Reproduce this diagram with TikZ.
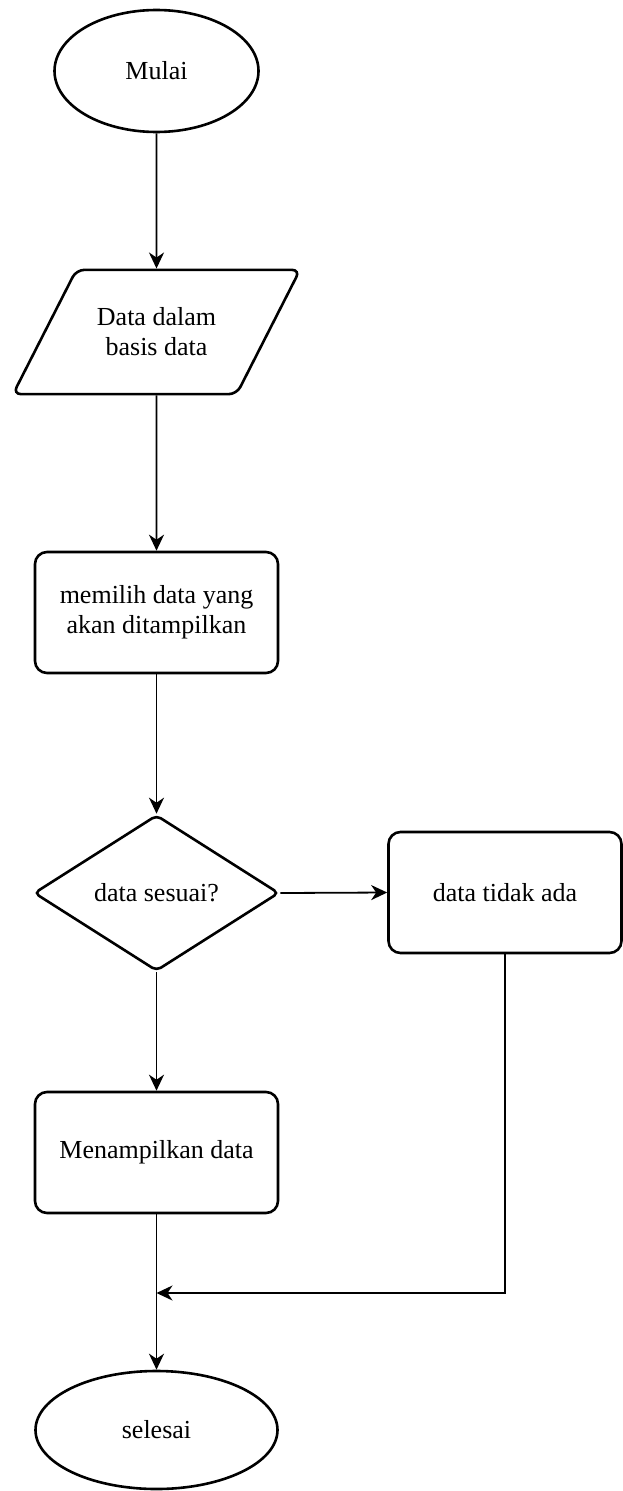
\documentclass[tikz,border=0pt]{standalone}
\usepackage{fontspec}
\setmainfont{Liberation Serif}
\usetikzlibrary{shapes.geometric,arrows.meta}
\begin{document}
\begin{tikzpicture}[x = 1pt, y = 1pt,
        every node/.style = {font = \fontsize{26}{30}\selectfont, align = center, line width = 2.6pt},
        terminal/.style = {draw, ellipse, inner sep = 0pt},
        proses/.style = {draw, rectangle, rounded corners = 12pt, minimum width = 243pt, minimum height = 121pt},
        masukan/.style = {draw, trapezium, trapezium left angle = 63, trapezium right angle = 117,
            trapezium stretches body, rounded corners = 8pt, inner ysep = 38pt, minimum width = 287pt},
        keputusan/.style = {draw, diamond, inner sep = 0pt, rounded corners = 5pt, minimum width = 245pt, minimum height = 156pt},
        panah/.style = {line width = 1.8pt, -{Stealth[length = 16pt, width = 15pt, inset = 5pt]}}]
        \useasboundingbox (0, 0) rectangle (622, -1491);
        \node[terminal, minimum width = 204pt, minimum height = 122pt] (mulai) at (156.5, -71) {Mulai};
        \node[masukan] (input) at (156.5, -332) {Data dalam\\ basis data};
        \node[proses] (pilih) at (156.5, -612.5) {memilih data yang\\ akan ditampilkan};
        \node[keputusan] (cek) at (156.5, -893) {data sesuai?};
        \node[proses, minimum width = 233pt] (kosong) at (505, -892.5) {data tidak ada};
        \node[proses] (tampil) at (156.5, -1152.5) {Menampilkan data};
        \node[terminal, minimum width = 242pt, minimum height = 118pt] (selesai) at (156.5, -1430) {selesai};
        \coordinate (gabung) at (156.5, -1293);
        \foreach \a/\b in {mulai/input, input/pilih, pilih/cek, cek/tampil, tampil/selesai}
            {\draw[panah] (\a.south) -- (\b.north);};
        \draw[panah] (cek.east) -- (kosong.west);
        \draw[panah] (kosong.south) |- (gabung);
        \end{tikzpicture}
\end{document}
